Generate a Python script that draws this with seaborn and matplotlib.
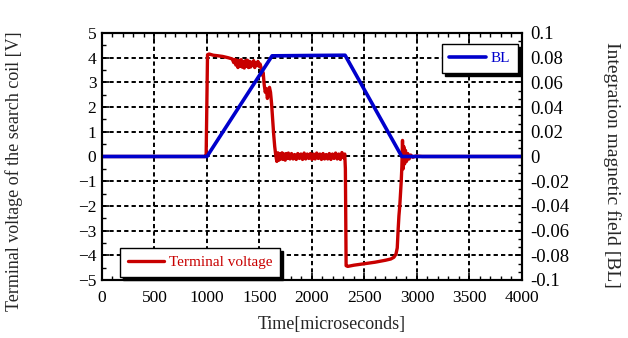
import numpy as np
import pandas as pd
import matplotlib
matplotlib.use("Agg")
import matplotlib.pyplot as plt
import seaborn as sns
from matplotlib.ticker import MultipleLocator, AutoMinorLocator, FuncFormatter

# --- Daten ---
# Klemmenspannung der Suchspule [V]
t_voltage = [0, 980, 992, 998, 1005, 1020, 1060, 1100, 1150, 1200, 1240,
             1255, 1265, 1275, 1285, 1295, 1305, 1315, 1325, 1335, 1345, 1355, 1365,
             1375, 1385, 1395, 1405, 1415, 1425, 1435, 1445, 1455, 1465, 1475, 1485,
             1495, 1505, 1515, 1525, 1535, 1545, 1555, 1565, 1575, 1585, 1595, 1605,
             1615, 1625, 1635, 1645, 1655,
             1665, 1675, 1685, 1695, 1705, 1715, 1725, 1735, 1745, 1755, 1765, 1775,
             1790, 1805, 1820, 1835, 1850, 1865, 1880, 1895, 1910, 1925, 1940, 1955,
             1970, 1985, 2000, 2015, 2030, 2045, 2060, 2075, 2090, 2105, 2120, 2135,
             2150, 2165, 2180, 2195, 2210, 2225, 2240, 2255, 2270, 2285, 2300, 2312,
             2318, 2325, 2340, 2400, 2500, 2600, 2700, 2750, 2780, 2800, 2812, 2820,
             2828, 2836, 2842, 2850, 2856, 2862, 2868, 2874, 2882, 2890, 2900, 2912,
             2925, 2940, 2960, 2990, 3050, 4000]
v_voltage = [0.0, 0.0, 0.05, 2.0, 4.12, 4.15, 4.1, 4.08, 4.05, 4.0, 3.95,
             3.8, 3.93, 3.7, 3.9, 3.6, 3.88, 3.65, 3.92, 3.62, 3.85, 3.58, 3.88,
             3.65, 3.9, 3.6, 3.85, 3.62, 3.82, 3.68, 3.88, 3.6, 3.8, 3.7, 3.85,
             3.65, 3.75, 3.6, 3.3, 3.4, 2.9, 2.6, 2.75, 2.35, 2.55, 2.8, 2.6,
             2.15, 1.5, 0.9, 0.4, 0.05,
             -0.2, 0.15, -0.15, 0.12, -0.1, 0.15, -0.12, 0.1, -0.15, 0.12, -0.08, 0.14,
             -0.1, 0.12, -0.1, 0.08, -0.12, 0.12, -0.08, 0.1, -0.12, 0.14, -0.1, 0.1,
             -0.08, 0.12, -0.12, 0.1, -0.1, 0.14, -0.08, 0.1, -0.12, 0.12, -0.1, 0.08,
             -0.1, 0.12, -0.12, 0.1, -0.08, 0.14, -0.1, 0.1, -0.12, 0.16, -0.05, 0.1,
             -0.5, -4.42, -4.45, -4.4, -4.34, -4.28, -4.2, -4.15, -4.08, -3.95, -3.7, -3.0,
             -2.4, -2.0, -1.6, -1.0, -0.4, 0.65, -0.5, 0.4, -0.3, 0.25, -0.2, 0.12,
             -0.1, 0.06, -0.03, 0.02, 0.0, 0.0]

# Integriertes Magnetfeld [BL]
t_bl = [0, 1000, 1620, 2000, 2315, 2855, 3200, 4000]
v_bl = [0.0, 0.0, 0.0815, 0.0818, 0.082, 0.0, 0.0, 0.0]

df_v = pd.DataFrame({'time': t_voltage, 'value': v_voltage})
df_bl = pd.DataFrame({'time': t_bl, 'value': v_bl})

RED = '#c80000'
BLUE = '#0000cc'

sns.set_theme(style='ticks')
plt.rcParams['font.family'] = ['Liberation Serif', 'DejaVu Serif']

fig = plt.figure(figsize=(6.28, 3.38), dpi=100)
ax = fig.add_axes([0.1624, 0.1716, 0.6688, 0.7308])
ax2 = ax.twinx()

sns.lineplot(data=df_v, x='time', y='value', ax=ax, color=RED, lw=2.4,
             label='Terminal voltage', legend=False)
sns.lineplot(data=df_bl, x='time', y='value', ax=ax2, color=BLUE, lw=2.6,
             label='BL', legend=False)

# --- Achsen ---
ax.set_xlim(0, 4000)
ax.set_ylim(-5, 5)
ax2.set_ylim(-0.1, 0.1)
ax.xaxis.set_major_locator(MultipleLocator(500))
ax.xaxis.set_minor_locator(MultipleLocator(100))
ax.yaxis.set_major_locator(MultipleLocator(1))
ax.yaxis.set_minor_locator(MultipleLocator(0.5))
ax2.yaxis.set_major_locator(MultipleLocator(0.02))
ax2.yaxis.set_minor_locator(AutoMinorLocator(3))
ax2.yaxis.set_major_formatter(FuncFormatter(lambda v, p: '0' if abs(v) < 1e-9 else f'{v:.2f}'.rstrip('0')))

ax.tick_params(which='both', direction='in', top=True, right=False, labelsize=12.5,
               colors='black', pad=4)
ax.tick_params(axis='x', which='both', pad=7)
ax.tick_params(which='major', length=5, width=1.2)
ax.tick_params(which='minor', length=3, width=1.0)
ax2.tick_params(which='both', direction='in', labelsize=13.5, colors='black', pad=6)
ax2.tick_params(which='major', length=5, width=1.2)
ax2.tick_params(which='minor', length=3, width=1.0)

for a in (ax, ax2):
    for s in a.spines.values():
        s.set_linewidth(1.5)
        s.set_color('black')

ax.grid(True, which='major', color='black', linestyle=(0, (2.2, 1.6)), lw=1.4)
ax.set_axisbelow(True)

ax.set_xlabel('Time[microseconds]', fontsize=13)
ax.set_ylabel('Terminal voltage of the search coil [V]', fontsize=13)
ax2.set_ylabel('Integration magnetic field [BL]', fontsize=14, rotation=270)
ax.xaxis.set_label_coords(0.546, -0.182)
ax.xaxis.label.set_va('center')
ax.yaxis.set_label_coords(-0.2095, 0.44)
ax.yaxis.label.set_va('center')
ax2.yaxis.set_label_coords(1.214, 0.466)
ax2.yaxis.label.set_va('center')
ax2.yaxis.label.set_ha('center')

shadow = {'color': 'black', 'alpha': 1.0}
leg1 = ax.legend(loc='lower left', bbox_to_anchor=(0.043, 0.012), borderaxespad=0,
                 frameon=True, fancybox=False, shadow=shadow, edgecolor='black',
                 framealpha=1, labelcolor=RED, fontsize=11, handlelength=2.4,
                 borderpad=0.5, handletextpad=0.3)
leg1.get_frame().set_linewidth(1.0)
leg2 = ax2.legend(loc='upper right', bbox_to_anchor=(0.99, 0.955), borderaxespad=0,
                  frameon=True, fancybox=False, shadow=shadow, edgecolor='black',
                  framealpha=1, labelcolor=BLUE, fontsize=11, handlelength=2.4,
                  borderpad=0.5, handletextpad=0.3)
leg2.get_frame().set_linewidth(1.0)

fig.savefig('out.png', dpi=100)
